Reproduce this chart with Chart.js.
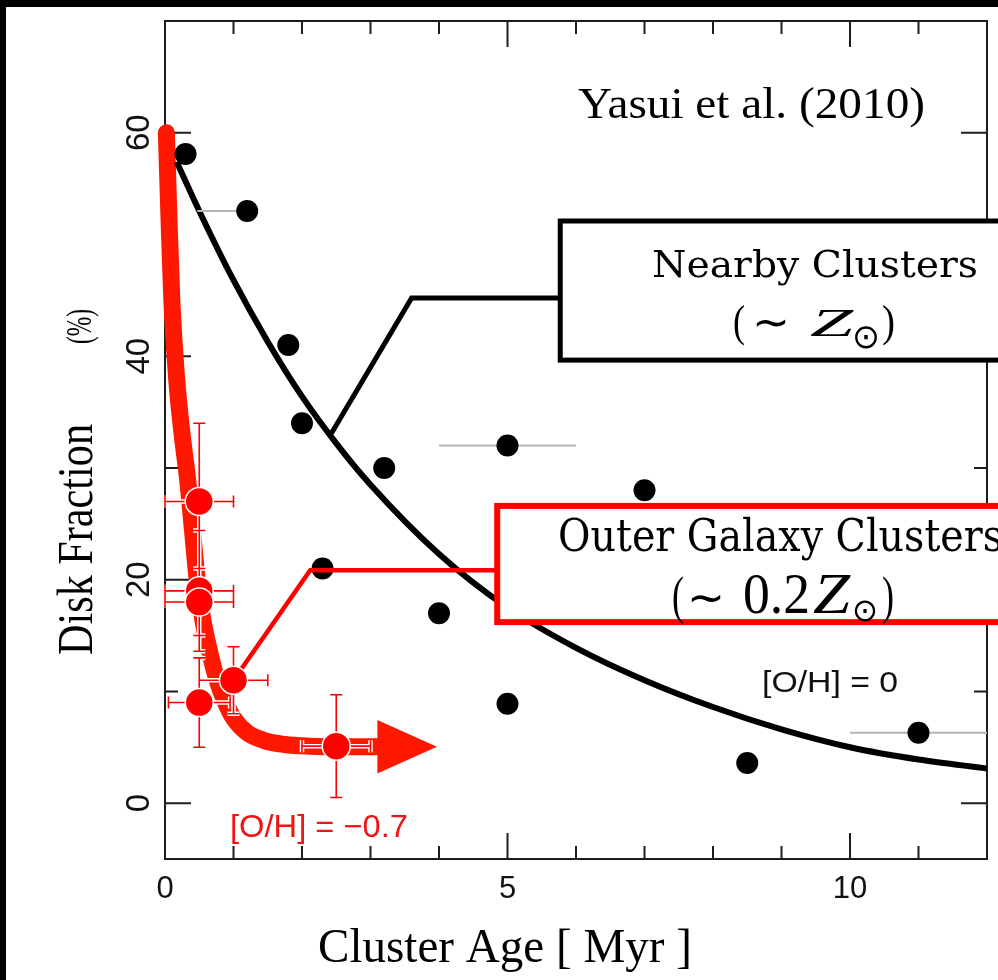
<!DOCTYPE html>
<html>
<head>
<meta charset="utf-8">
<script src="https://cdn.jsdelivr.net/npm/chart.js@4/dist/chart.umd.min.js"></script>
<style>
  html, body { margin: 0; padding: 0; background: #fff; overflow: hidden; }
  canvas { display: block; }
</style>
</head>
<body>
<canvas id="c" width="998" height="980"></canvas>
<script>
// Nearby (solar metallicity) clusters: age [Myr] and disk fraction [%]
const nearbyAge  = [0.3, 1.2, 1.8, 2.0, 2.3, 3.2, 4.0, 5.0, 5.0, 7.0, 8.5, 11.0];
const nearbyFrac = [58.1, 53.0, 41.0, 34.0, 21.0, 30.0, 17.0, 32.0, 8.9, 28.0, 3.6, 6.3];
// age uncertainty ranges (null = none drawn)
const nearbyAgeLo = [null, 0.47, null, null, null, null, null, 4.0, null, null, null, 10.0];
const nearbyAgeHi = [null, 1.2,  null, null, null, null, null, 6.0, null, null, null, 12.0];

// Outer Galaxy (low metallicity) clusters
const outerAge    = [0.5, 0.5, 0.5, 0.5, 1.0, 2.5];
const outerFrac   = [27, 19, 18, 9, 11, 5.1];
const outerFracLo = [20, 13.6, 15, 5, 8, 0.5];
const outerFracHi = [34, 24.4, 21, 13, 14, 9.7];
const outerAgeLo  = [0.0, 0.0, 0.0, 0.05, 0.5, 2.0];
const outerAgeHi  = [1.0, 1.0, 1.0, 0.95, 1.5, 3.0];

// Disk-fraction decay trend for nearby clusters ([O/H] = 0)
const nearbyFitAge  = [0.17, 0.5, 1, 1.5, 2, 2.5, 3, 4, 5, 6, 7, 8, 9, 10, 11, 12];
const nearbyFitFrac = [57.4, 53.0, 46.8, 41.3, 36.4, 32.2, 28.5, 22.3, 17.5, 13.9, 11.0, 8.6, 6.6, 5.0, 3.9, 3.1];

// Disk-fraction decay trend for outer Galaxy clusters ([O/H] = -0.7)
const outerFitAge  = [0.02, 0.06, 0.1, 0.17, 0.25, 0.33, 0.4, 0.47, 0.55, 0.65, 0.75, 0.87, 1.0, 1.2, 1.45, 1.75, 2.1, 2.6, 3.1];
const outerFitFrac = [60, 52, 45, 38, 33, 29, 24.5, 20, 16.5, 13.6, 11.2, 9.2, 7.6, 6.3, 5.6, 5.25, 5.1, 5.05, 5.05];
// arrow head continuing the low-metallicity trend
const arrowBaseAge = 3.1, arrowTipAge = 3.97, arrowFrac = 5.05, arrowHalf = 2.4;

// Axis ticks and labels
const xMajorTicks = [0, 5, 10];
const xMinorTicks = [1, 2, 3, 4, 6, 7, 8, 9, 11];
const xTickLabels = ['0', '5', '10'];
const yMajorTicks = [0, 20, 40, 60];
const yMinorTicks = [10, 30, 50];
const yTickLabels = ['0', '20', '40', '60'];

// Callout anchors (data units)
const nearbyCallout = [[2.43, 33.1], [3.6, 45.2], [5.77, 45.2]];
const outerCallout  = [[1.0, 11.0], [2.12, 20.85], [4.85, 20.85]];
const nearbyBox = { x0: 5.77, x1: 13.5, y0: 39.65, y1: 52.1 };
const outerBox  = { x0: 4.85, x1: 13.5, y0: 16.2, y1: 26.6 };

const RED_CURVE = 'rgb(255,24,0)';
const RED = '#ff0000';
const SERIF = '"Liberation Serif", "Times New Roman", serif';
const SANS = '"Liberation Sans", Arial, Helvetica, sans-serif';
const BOXSERIF = '"DejaVu Serif", "Liberation Serif", serif';
const SYM = '"DejaVu Sans", sans-serif';

const toXY = (xs, ys) => xs.map((x, i) => ({ x, y: ys[i] }));

// draw text squeezed/stretched horizontally to a given width
function fitText(ctx, str, x, y, font, w, align, rot) {
  ctx.save();
  ctx.font = font;
  const m = ctx.measureText(str).width;
  const s = w / m;
  ctx.translate(x, y);
  if (rot) ctx.rotate(rot);
  ctx.scale(s, 1);
  ctx.textAlign = 'left';
  ctx.textBaseline = 'alphabetic';
  const off = align === 'center' ? -m / 2 : (align === 'right' ? -m : 0);
  ctx.fillText(str, off, 0);
  ctx.restore();
}

// a formula set piece by piece: each piece has its own font, left edge, width and baseline
function setFormula(ctx, pieces) {
  pieces.forEach(p => fitText(ctx, p.t, p.x, p.y, p.font, p.w, 'left'));
}

const decorations = {
  id: 'decorations',
  beforeDraw(chart) {
    const ctx = chart.ctx;
    ctx.save();
    ctx.fillStyle = '#fff';
    ctx.fillRect(0, 0, chart.width, chart.height);
    ctx.fillStyle = '#000';
    ctx.fillRect(0, 0, chart.width, 7);
    ctx.fillRect(0, 0, 6, chart.height);
    ctx.restore();
  },
  beforeDatasetsDraw(chart) {
    const ctx = chart.ctx, a = chart.chartArea;
    const X = v => chart.scales.x.getPixelForValue(v);
    const Y = v => chart.scales.y.getPixelForValue(v);
    ctx.save();
    ctx.strokeStyle = '#1c1c1c';
    ctx.lineWidth = 2;
    ctx.strokeRect(a.left, a.top, a.right - a.left, a.bottom - a.top);
    ctx.beginPath();
    const tick = (x1, y1, x2, y2) => { ctx.moveTo(x1, y1); ctx.lineTo(x2, y2); };
    xMajorTicks.forEach(v => { const x = X(v); tick(x, a.bottom, x, a.bottom - 26); tick(x, a.top, x, a.top + 26); });
    xMinorTicks.forEach(v => { const x = X(v); tick(x, a.bottom, x, a.bottom - 13); tick(x, a.top, x, a.top + 13); });
    yMajorTicks.forEach(v => { const y = Y(v); tick(a.left, y, a.left + 26, y); tick(a.right, y, a.right - 26, y); });
    yMinorTicks.forEach(v => { const y = Y(v); tick(a.left, y, a.left + 13, y); tick(a.right, y, a.right - 13, y); });
    ctx.stroke();

    // tick labels
    ctx.fillStyle = '#111';
    ctx.font = '31px ' + SANS;
    ctx.textAlign = 'center';
    ctx.textBaseline = 'alphabetic';
    xMajorTicks.forEach((v, i) => ctx.fillText(xTickLabels[i], X(v), 898));
    ctx.font = '33px ' + SANS;
    yMajorTicks.forEach((v, i) => {
      ctx.save();
      ctx.translate(149, Y(v));
      ctx.rotate(-Math.PI / 2);
      ctx.fillText(yTickLabels[i], 0, 0);
      ctx.restore();
    });

    // axis titles
    ctx.fillStyle = '#000';
    fitText(ctx, 'Cluster Age [ Myr ]', 505, 962, '49px ' + SERIF, 374, 'center');
    fitText(ctx, 'Disk Fraction', 92, 655, '51px ' + SERIF, 231, 'left', -Math.PI / 2);
    fitText(ctx, '(%)', 91, 344, '36px ' + SERIF, 35, 'left', -Math.PI / 2);

    // in-plot labels
    fitText(ctx, 'Yasui et al. (2010)', 578, 118, '45px ' + SERIF, 347, 'left');
    ctx.fillStyle = '#111';
    fitText(ctx, '[O/H] = 0', 762, 692, '30px ' + SANS, 136, 'left');
    ctx.fillStyle = '#f01414';
    fitText(ctx, '[O/H] = \u22120.7', 230, 837, '32px ' + SANS, 178, 'left');
    ctx.restore();
  },
  beforeDatasetDraw(chart, args) {
    const ctx = chart.ctx;
    const X = v => chart.scales.x.getPixelForValue(v);
    const Y = v => chart.scales.y.getPixelForValue(v);
    if (args.index === 1) {
      // age ranges of nearby clusters
      ctx.save();
      ctx.strokeStyle = '#b4b4b4';
      ctx.lineWidth = 2;
      nearbyAge.forEach((_, i) => {
        if (nearbyAgeLo[i] === null) return;
        ctx.beginPath();
        ctx.moveTo(X(nearbyAgeLo[i]), Y(nearbyFrac[i]));
        ctx.lineTo(X(nearbyAgeHi[i]), Y(nearbyFrac[i]));
        ctx.stroke();
      });
      ctx.restore();
    }
    if (args.index === 0) {
      ctx.save();
      // callout leaders
      const leader = (pts, color, w) => {
        ctx.strokeStyle = color; ctx.lineWidth = w; ctx.lineJoin = 'miter';
        ctx.beginPath();
        pts.forEach((p, i) => i ? ctx.lineTo(X(p[0]), Y(p[1])) : ctx.moveTo(X(p[0]), Y(p[1])));
        ctx.stroke();
      };
      leader(nearbyCallout, '#000', 5);
      leader(outerCallout, RED, 4.5);

      // error bars with a white halo
      const cap = 6;
      const segs = [];
      outerAge.forEach((x, i) => {
        const px = X(x), py = Y(outerFrac[i]);
        const yl = Y(outerFracLo[i]), yh = Y(outerFracHi[i]);
        const xl = X(outerAgeLo[i]), xh = X(outerAgeHi[i]);
        segs.push([px, yl, px, yh], [px - cap, yl, px + cap, yl], [px - cap, yh, px + cap, yh]);
        segs.push([xl, py, xh, py], [xl, py - cap, xl, py + cap], [xh, py - cap, xh, py + cap]);
      });
      [['#ffffff', 4.5], [RED, 1.6]].forEach(([c, w]) => {
        ctx.strokeStyle = c; ctx.lineWidth = w; ctx.lineCap = 'butt';
        ctx.beginPath();
        segs.forEach(s => { ctx.moveTo(s[0], s[1]); ctx.lineTo(s[2], s[3]); });
        ctx.stroke();
      });
      ctx.restore();
    }
  },
  afterDatasetDraw(chart, args) {
    if (args.index !== 3) return;
    const ctx = chart.ctx;
    const X = v => chart.scales.x.getPixelForValue(v);
    const Y = v => chart.scales.y.getPixelForValue(v);
    ctx.save();
    ctx.fillStyle = RED_CURVE;
    ctx.beginPath();
    ctx.moveTo(X(arrowBaseAge), Y(arrowFrac + arrowHalf));
    ctx.lineTo(X(arrowTipAge), Y(arrowFrac));
    ctx.lineTo(X(arrowBaseAge), Y(arrowFrac - arrowHalf));
    ctx.closePath();
    ctx.fill();
    ctx.restore();
  },
  afterDraw(chart) {
    const ctx = chart.ctx;
    const X = v => chart.scales.x.getPixelForValue(v);
    const Y = v => chart.scales.y.getPixelForValue(v);
    const box = (b, color, w) => {
      const l = X(b.x0), r = X(b.x1), t = Y(b.y1), btm = Y(b.y0);
      ctx.fillStyle = '#fff';
      ctx.fillRect(l, t, r - l, btm - t);
      ctx.strokeStyle = color; ctx.lineWidth = w;
      ctx.strokeRect(l, t, r - l, btm - t);
    };
    ctx.save();
    box(nearbyBox, '#000', 5);
    box(outerBox, RED, 6);
    ctx.fillStyle = '#000';
    fitText(ctx, 'Nearby Clusters', 652, 277, '37px ' + BOXSERIF, 326, 'left');
    setFormula(ctx, [
      { t: '(',      x: 733, w: 12, y: 336, font: '44px ' + SERIF },
      { t: '\u223C', x: 752, w: 38, y: 337, font: '44px ' + SYM },
      { t: 'Z',      x: 810, w: 43, y: 336, font: 'italic 40px ' + SERIF },
      { t: '\u2299', x: 852, w: 28, y: 348, font: '34px ' + SYM },
      { t: ')',      x: 882, w: 13, y: 336, font: '44px ' + SERIF }
    ]);
    fitText(ctx, 'Outer Galaxy Clusters', 558, 551, '45px ' + BOXSERIF, 445, 'left');
    setFormula(ctx, [
      { t: '(',      x: 672, w: 12, y: 613, font: '52px ' + SERIF },
      { t: '\u223C', x: 687, w: 38, y: 613, font: '46px ' + SYM },
      { t: '0.2',    x: 743, w: 67, y: 613, font: '56px ' + SERIF },
      { t: 'Z',      x: 813, w: 37, y: 613, font: 'italic 56px ' + SERIF },
      { t: '\u2299', x: 852, w: 26, y: 621, font: '32px ' + SYM },
      { t: ')',      x: 882, w: 12, y: 613, font: '52px ' + SERIF }
    ]);
    ctx.restore();
  }
};

new Chart(document.getElementById('c'), {
  type: 'scatter',
  data: {
    datasets: [
      { // 0: outer Galaxy clusters
        data: toXY(outerAge, outerFrac),
        pointRadius: 14, pointBackgroundColor: RED, pointBorderColor: '#fff', pointBorderWidth: 1.5,
        order: 0
      },
      { // 1: nearby clusters
        data: toXY(nearbyAge, nearbyFrac),
        pointRadius: 11, pointBackgroundColor: '#000', pointBorderWidth: 0,
        order: 1
      },
      { // 2: nearby trend
        data: toXY(nearbyFitAge, nearbyFitFrac),
        showLine: true, borderColor: '#000', borderWidth: 6, pointRadius: 0,
        cubicInterpolationMode: 'monotone', order: 2
      },
      { // 3: outer trend
        data: toXY(outerFitAge, outerFitFrac),
        showLine: true, borderColor: RED_CURVE, borderWidth: 17, pointRadius: 0,
        borderCapStyle: 'round', borderJoinStyle: 'round',
        cubicInterpolationMode: 'monotone', clip: false, order: 3
      }
    ]
  },
  options: {
    responsive: false,
    devicePixelRatio: 1,
    animation: false,
    events: [],
    layout: { autoPadding: false, padding: { left: 165, right: 11, top: 21, bottom: 121 } },
    scales: {
      x: { type: 'linear', min: 0, max: 12, display: false },
      y: { type: 'linear', min: -5, max: 70, display: false }
    },
    plugins: { legend: { display: false }, tooltip: { enabled: false } }
  },
  plugins: [decorations]
});
</script>
</body>
</html>
